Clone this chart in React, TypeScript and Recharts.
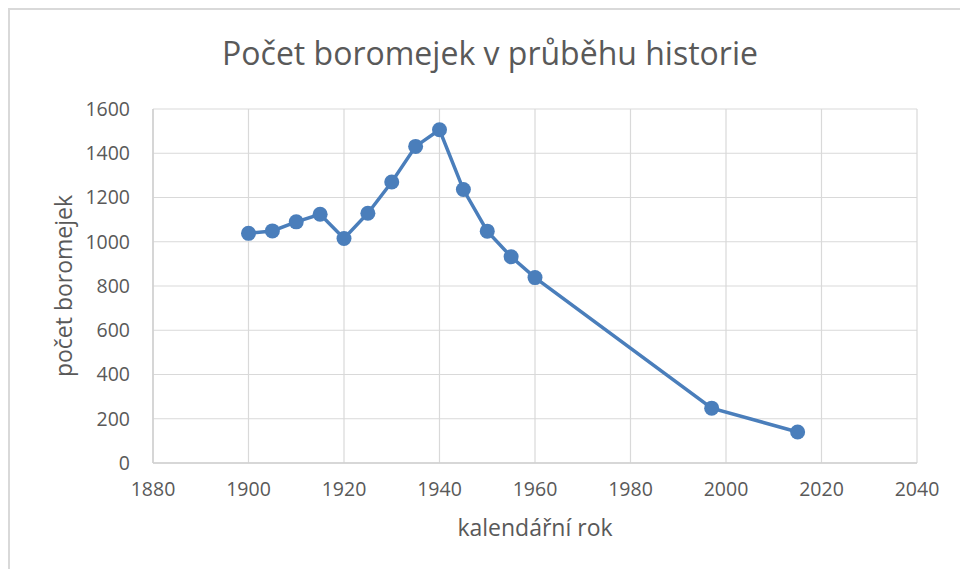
import { LineChart, Line, XAxis, YAxis, CartesianGrid, Label } from "recharts"

const years = [1900, 1905, 1910, 1915, 1920, 1925, 1930, 1935, 1940, 1945, 1950, 1955, 1960, 1997, 2015]
const counts = [1038, 1049, 1090, 1124, 1015, 1129, 1270, 1431, 1506, 1236, 1048, 932, 838, 248, 140]
const xTicks = [1880, 1900, 1920, 1940, 1960, 1980, 2000, 2020, 2040]
const yTicks = [0, 200, 400, 600, 800, 1000, 1200, 1400, 1600]

const data = years.map((year, i) => ({ year, count: counts[i] }))

const font = "'Open Sans', sans-serif"
const textColor = "#595959"
const blue = "#4a7ebb"

export default function App() {
  return (
    <div style={{ position: "relative", margin: -8, width: 968, height: 577, background: "#fff", overflow: "hidden" }}>
      <div
        style={{
          position: "absolute",
          left: 8,
          top: 8,
          width: 980,
          height: 600,
          borderTop: "2px solid #d9d9d9",
          borderLeft: "2px solid #d9d9d9",
        }}
      />
      <div
        style={{
          position: "absolute",
          left: 0,
          width: 980,
          top: 31,
          textAlign: "center",
          fontFamily: font,
          fontSize: 32,
          color: textColor,
        }}
      >
        Počet boromejek v průběhu historie
      </div>
      <div style={{ position: "absolute", left: 0, top: 0 }}>
        <LineChart width={968} height={577} data={data} margin={{ top: 109, right: 51, bottom: 0, left: 0 }}>
          <CartesianGrid stroke="#d9d9d9" strokeWidth={1.2} horizontalValues={yTicks} verticalValues={xTicks} />
          <XAxis
            dataKey="year"
            type="number"
            domain={[1880, 2040]}
            ticks={xTicks}
            height={114}
            tickLine={false}
            axisLine={{ stroke: "#d0d0d0", strokeWidth: 1.5 }}
            tickMargin={13}
            tick={{ fill: textColor, fontSize: 19.5, fontFamily: font }}
            interval={0}
          >
            <Label
              value="kalendářní rok"
              position="insideTop"
              offset={57}
              style={{ fill: textColor, fontSize: 23, fontFamily: font }}
            />
          </XAxis>
          <YAxis
            type="number"
            domain={[0, 1600]}
            ticks={yTicks}
            width={153}
            tickLine={false}
            axisLine={{ stroke: "#d0d0d0", strokeWidth: 1.5 }}
            tickMargin={17}
            tick={{ fill: textColor, fontSize: 19.5, fontFamily: font }}
            interval={0}
          >
            <Label
              value="počet boromejek"
              angle={-90}
              position="insideLeft"
              offset={64}
              style={{ fill: textColor, fontSize: 23, fontFamily: font, textAnchor: "middle" }}
            />
          </YAxis>
          <Line
            type="linear"
            dataKey="count"
            stroke={blue}
            strokeWidth={3.5}
            dot={{ r: 7.5, fill: blue, stroke: "none" }}
            activeDot={false}
            isAnimationActive={false}
          />
        </LineChart>
      </div>
    </div>
  )
}
